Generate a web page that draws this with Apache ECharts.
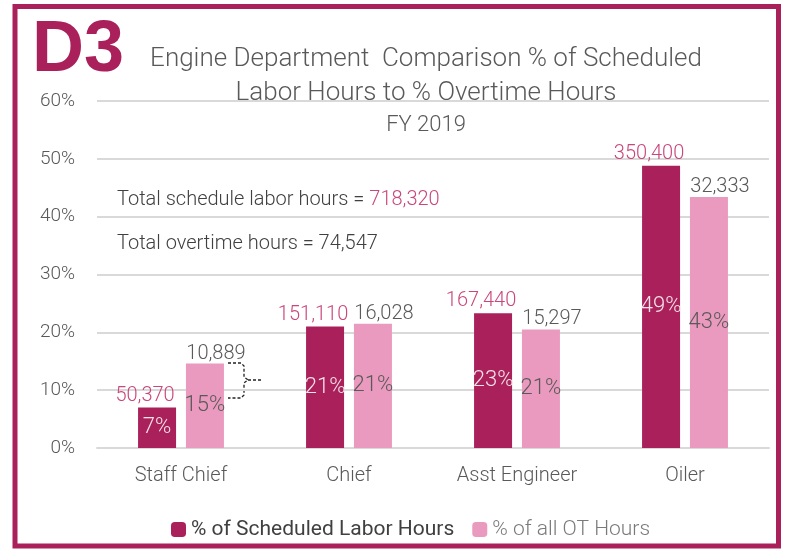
<!DOCTYPE html>
<html><head><meta charset="utf-8">
<script src="https://cdn.jsdelivr.net/npm/echarts@6/dist/echarts.min.js"></script>
<style>html,body{margin:0;padding:0;background:#fff}#c{width:785px;height:550px}</style>
</head><body><div id="c"></div>
<script>
const categories = ['Staff Chief', 'Chief', 'Asst Engineer', 'Oiler'];
const schedPct = [7.0, 21.0, 23.3, 48.8];
const otPct = [14.6, 21.5, 20.5, 43.4];
const schedPctLabels = ['7%', '21%', '23%', '49%'];
const otPctLabels = ['15%', '21%', '21%', '43%'];
const schedHours = ['50,370', '151,110', '167,440', '350,400'];
const otHours = ['10,889', '16,028', '15,297', '32,333'];
const yTicks = [0, 10, 20, 30, 40, 50, 60];
const seriesNames = ['% of Scheduled Labor Hours', '% of all OT Hours'];

const DARK = '#A9205A', PINK = '#EA9ABE', GRAY = '#595959';
const FONT = 'Roboto';
const chart = echarts.init(document.getElementById('c'));
chart.setOption({
  animation: false,
  textStyle: { fontFamily: FONT },
  title: [{
    text: 'Engine Department  Comparison % of Scheduled\nLabor Hours to % Overtime Hours',
    left: 421, top: 37, textAlign: 'center',
    textStyle: { fontFamily: FONT, fontWeight: 300, fontSize: 26, color: GRAY, lineHeight: 34 }
  }, {
    text: 'FY 2019', left: 421, top: 109, textAlign: 'center',
    textStyle: { fontFamily: FONT, fontWeight: 300, fontSize: 22, color: GRAY }
  }, {
    text: 'D3', left: 27, top: 10,
    textStyle: { fontFamily: 'Liberation Sans', fontWeight: 'bold', fontSize: 72, color: DARK }
  }],
  legend: {
    bottom: 5, left: 166, itemWidth: 15, itemHeight: 15, itemGap: 18,
    data: [
      { name: seriesNames[0], textStyle: { color: '#404040', fontWeight: 400, fontSize: 21 } },
      { name: seriesNames[1], textStyle: { color: '#7a7a7a', fontWeight: 300, fontSize: 21 } }
    ],
    textStyle: { fontFamily: FONT, fontSize: 21 }
  },
  grid: { left: 97, right: 16, top: 101, bottom: 102 },
  xAxis: {
    type: 'category', data: categories,
    axisLine: { lineStyle: { color: '#D9D9D9', width: 2 } },
    axisTick: { show: false },
    axisLabel: { fontSize: 20, color: GRAY, margin: 18, fontWeight: 300 }
  },
  yAxis: {
    type: 'value', min: 0, max: 60, interval: 10,
    axisLabel: { formatter: v => yTicks.includes(v) ? v + '%' : '', fontSize: 19, color: GRAY, margin: 22, fontWeight: 300 },
    splitLine: { lineStyle: { color: '#D9D9D9', width: 2 } },
    axisLine: { show: false }, axisTick: { show: false }
  },
  series: [{
    name: seriesNames[0], type: 'bar', stack: 'a', data: schedPct, barWidth: 38, barGap: '26%',
    itemStyle: { color: DARK },
    label: { show: true, position: 'inside', formatter: p => schedPctLabels[p.dataIndex], color: '#F5E3EA', fontSize: 22, fontWeight: 300 }
  }, {
    name: seriesNames[0], type: 'bar', stack: 'a', data: categories.map(() => 0), barWidth: 38,
    itemStyle: { color: DARK },
    label: { show: true, position: 'top', distance: 2, offset: [-12, 0], formatter: p => schedHours[p.dataIndex], color: '#C9477C', fontSize: 20, fontWeight: 300 }
  }, {
    name: seriesNames[1], type: 'bar', stack: 'b', data: otPct, barWidth: 38, barGap: '26%',
    itemStyle: { color: PINK },
    label: { show: true, position: 'inside', formatter: p => otPctLabels[p.dataIndex], color: GRAY, fontSize: 22, fontWeight: 300 }
  }, {
    name: seriesNames[1], type: 'bar', stack: 'b', data: categories.map(() => 0), barWidth: 38, barGap: '26%',
    itemStyle: { color: PINK },
    label: { show: true, position: 'top', distance: 0, offset: [11, 0], formatter: p => otHours[p.dataIndex], color: GRAY, fontSize: 20, fontWeight: 300 }
  }],
  graphic: [{
    type: 'rect', shape: { x: 15, y: 6.5, width: 763.5, height: 539.5 },
    style: { fill: 'none', stroke: DARK, lineWidth: 5 }, z: 100
  }, {
    type: 'text', x: 117, y: 190,
    style: { rich: { a: { fontFamily: FONT, fontWeight: 300, fontSize: 20, fill: '#404040' }, b: { fontFamily: FONT, fontWeight: 300, fontSize: 20, fill: '#C9477C' } },
      text: '{a|Total schedule labor hours = }{b|718,320}' }
  }, {
    type: 'text', x: 117, y: 234,
    style: { text: 'Total overtime hours = 74,547', fontFamily: FONT, fontWeight: 300, fontSize: 20, fill: '#404040' }
  }, {
    type: 'polyline', shape: { points: [[228,363],[241,363],[244,366],[244,377],[248,380],[244,383],[244,395],[241,398],[228,398]] },
    style: { fill: 'none', stroke: '#222', lineWidth: 1.3, lineDash: [3, 2] }
  }, {
    type: 'line', shape: { x1: 248, y1: 380, x2: 262, y2: 380 },
    style: { stroke: '#222', lineWidth: 1.3, lineDash: [3, 2] }
  }]
});
</script></body></html>
